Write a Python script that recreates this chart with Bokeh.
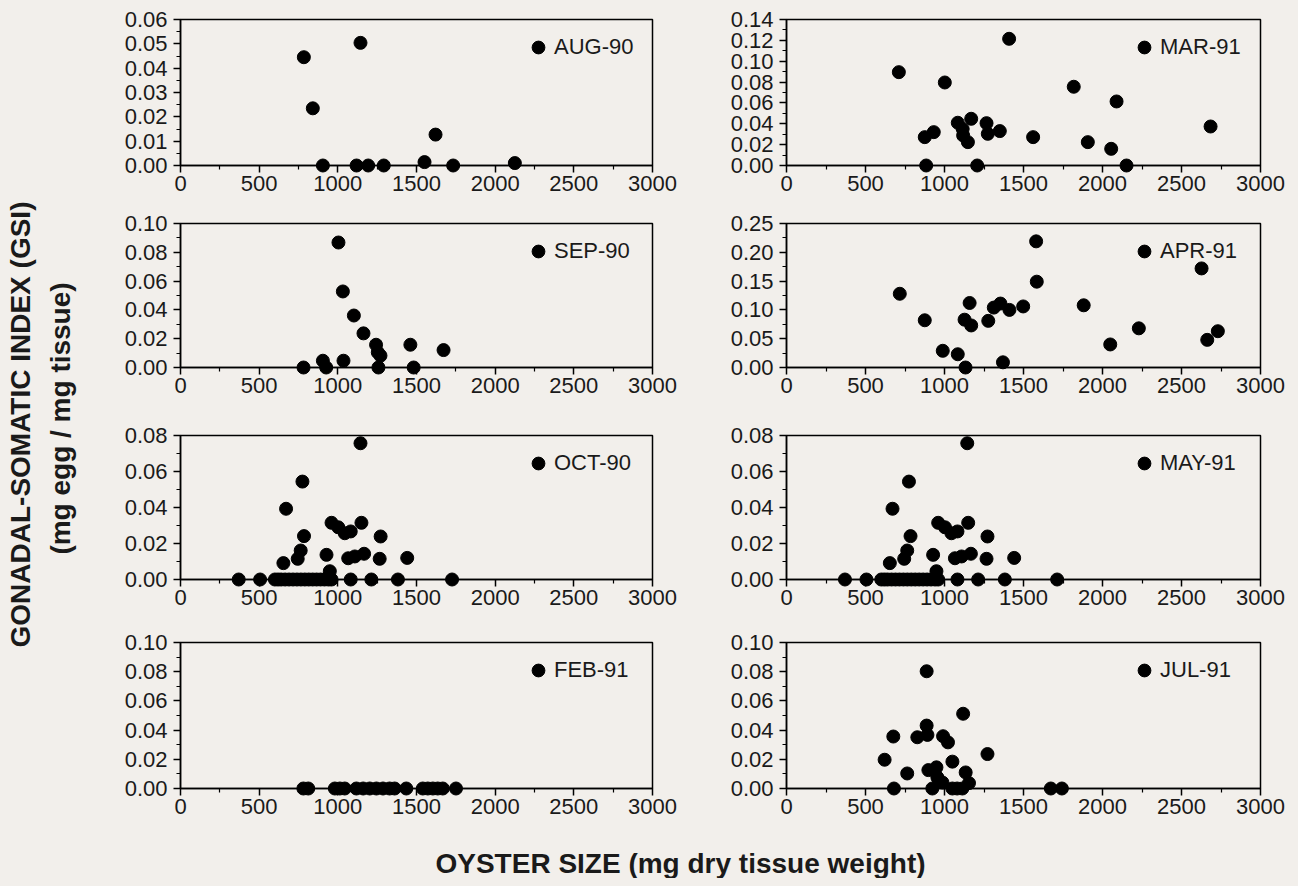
import math
from bokeh.plotting import figure
from bokeh.layouts import column, row
from bokeh.models import Range1d, FixedTicker, PrintfTickFormatter, Legend, LegendItem
from bokeh.embed import file_html
from bokeh.resources import INLINE
from bokeh.core.properties import value

FONT = "Liberation Sans"
BG = "#f2efeb"

# ---------------- data ----------------
aug90_x = [784, 841, 905, 1119, 1144, 1193, 1292, 1551, 1621, 1733, 2125]
aug90_y = [0.0445, 0.0235, 0.0, 0.0, 0.0504, 0.0, 0.0, 0.0014, 0.0127, 0.0, 0.0010]

sep90_x = [782, 905, 926, 1004, 1032, 1036, 1102, 1163, 1243, 1254, 1258, 1271, 1461, 1482, 1672]
sep90_y = [0.0, 0.0047, 0.0, 0.0868, 0.0528, 0.0047, 0.0361, 0.0237, 0.0158, 0.0105, 0.0, 0.0082, 0.0158, 0.0, 0.0121]

oct90_x = [1144, 775, 671, 960, 1003, 1044, 1082, 1150, 785, 1272, 764, 745, 654, 928, 1066, 1108, 1167, 1266, 1441, 949,
           370, 506, 600, 620, 640, 665, 690, 715, 740, 765, 790, 815, 840, 865, 890, 915, 940, 960, 1082, 1213, 1382, 1726]
oct90_y = [0.0757, 0.0544, 0.0393, 0.0315, 0.0290, 0.0257, 0.0267, 0.0315, 0.0241, 0.0239, 0.0161, 0.0115, 0.0091, 0.0137,
           0.0118, 0.0128, 0.0143, 0.0115, 0.0120, 0.0046,
           0, 0, 0, 0, 0, 0, 0, 0, 0, 0, 0, 0, 0, 0, 0, 0, 0, 0, 0, 0, 0, 0]

feb91_x = [781, 812, 981, 1013, 1044, 1118, 1161, 1203, 1245, 1287, 1329, 1361, 1435, 1540, 1572, 1604, 1635, 1667, 1751]
feb91_y = [0.0] * 19

mar91_x = [711, 875, 884, 932, 1002, 1084, 1115, 1118, 1148, 1169, 1207, 1266, 1274, 1350, 1409, 1561, 1818, 1907,
           2055, 2089, 2152, 2684]
mar91_y = [0.0895, 0.0272, 0.0, 0.0320, 0.0796, 0.0410, 0.0350, 0.0288, 0.0224, 0.0448, 0.0, 0.0406, 0.0304, 0.0330,
           0.1215, 0.0272, 0.0755, 0.0224, 0.0160, 0.0614, 0.0, 0.0374]

apr91_x = [717, 875, 989, 1084, 1127, 1133, 1159, 1169, 1277, 1312, 1354, 1370, 1411, 1498, 1580, 1584, 1881, 2049,
           2230, 2627, 2663, 2730]
apr91_y = [0.128, 0.082, 0.029, 0.023, 0.083, 0.0, 0.112, 0.073, 0.081, 0.104, 0.111, 0.009, 0.100, 0.106, 0.219,
           0.149, 0.108, 0.040, 0.068, 0.172, 0.048, 0.063]

may91_x = [1144, 775, 671, 960, 1003, 1044, 1082, 1150, 785, 1272, 764, 745, 654, 928, 1066, 1108, 1167, 1266, 1441, 949,
           370, 506, 600, 620, 640, 665, 690, 715, 740, 765, 790, 815, 840, 865, 890, 915, 940, 960, 1082, 1213, 1382, 1713]
may91_y = [0.0757, 0.0544, 0.0393, 0.0315, 0.0290, 0.0257, 0.0267, 0.0315, 0.0241, 0.0239, 0.0161, 0.0115, 0.0091, 0.0137,
           0.0118, 0.0128, 0.0143, 0.0115, 0.0120, 0.0046,
           0, 0, 0, 0, 0, 0, 0, 0, 0, 0, 0, 0, 0, 0, 0, 0, 0, 0, 0, 0, 0, 0]

jul91_x = [887, 1118, 887, 828, 892, 676, 991, 1022, 621, 1050, 1272, 764, 898, 949, 955, 987, 1134, 1155,
           680, 923, 1050, 1080, 1113, 1673, 1743]
jul91_y = [0.0803, 0.0512, 0.0431, 0.0351, 0.0367, 0.0356, 0.0358, 0.0316, 0.0197, 0.0184, 0.0236, 0.0103, 0.0126,
           0.0145, 0.0076, 0.0041, 0.0110, 0.0037,
           0, 0, 0, 0, 0, 0, 0]

labels = ["AUG-90", "SEP-90", "OCT-90", "FEB-91", "MAR-91", "APR-91", "MAY-91", "JUL-91"]
y_max = [0.06, 0.10, 0.08, 0.10, 0.14, 0.25, 0.08, 0.10]
y_step = [0.01, 0.02, 0.02, 0.02, 0.02, 0.05, 0.02, 0.02]
x_ticks = [0, 500, 1000, 1500, 2000, 2500, 3000]

series = [(aug90_x, aug90_y), (sep90_x, sep90_y), (oct90_x, oct90_y), (feb91_x, feb91_y),
          (mar91_x, mar91_y), (apr91_x, apr91_y), (may91_x, may91_y), (jul91_x, jul91_y)]

# ---------------- layout geometry ----------------
row_frame_h = [146, 144, 144, 146]
row_top = [19, 18, 28, 23]
row_bottom = [40, 40, 40, 40]
col_frame_w = [472, 474]
col_left = [72, 72]
col_right = [62, 38]
YL_W = 108


def style(p):
    p.background_fill_color = BG
    p.border_fill_color = BG
    p.outline_line_color = None


def make_panel(i, r, c):
    xs, ys = series[i]
    ymax, step = y_max[i], y_step[i]
    n = int(round(ymax / step))
    yt = [round(k * step, 4) for k in range(n + 1)]
    ym = [round((k + 0.5) * step, 4) for k in range(n)]
    xm = [x_ticks[k] + 250 for k in range(len(x_ticks) - 1)]
    p = figure(frame_width=col_frame_w[c], frame_height=row_frame_h[r],
               x_range=Range1d(0, 3000), y_range=Range1d(0, ymax),
               output_backend="svg", toolbar_location=None,
               min_border_left=col_left[c], min_border_right=col_right[c],
               min_border_top=row_top[r], min_border_bottom=row_bottom[r])
    style(p)
    p.outline_line_color = "black"
    p.outline_line_width = 1.5
    p.grid.visible = False
    p.xaxis.ticker = FixedTicker(ticks=x_ticks, minor_ticks=xm)
    p.yaxis.ticker = FixedTicker(ticks=yt, minor_ticks=ym)
    p.yaxis.formatter = PrintfTickFormatter(format="%.2f")
    for ax in (p.xaxis[0], p.yaxis[0]):
        ax.axis_line_width = 1.5
        ax.axis_line_color = "black"
        ax.major_tick_line_color = "black"
        ax.major_tick_line_width = 1.5
        ax.minor_tick_line_color = "black"
        ax.minor_tick_line_width = 1.2
        ax.major_tick_out = 7
        ax.major_tick_in = 0
        ax.minor_tick_out = 4
        ax.minor_tick_in = 0
        ax.major_label_text_font = FONT
        ax.major_label_text_font_size = "22px"
        ax.major_label_text_color = "#1a1a1a"
    p.xaxis.major_label_standoff = 3
    p.yaxis.major_label_standoff = 6
    rend = p.scatter(xs, ys, size=13, color="black", level="overlay")
    leg = Legend(items=[LegendItem(label=labels[i], renderers=[rend])],
                 location=(342, row_frame_h[r] - 44),
                 border_line_color=None, background_fill_alpha=0,
                 padding=0, margin=0, glyph_width=32, glyph_height=32,
                 label_standoff=0, spacing=0,
                 label_text_font=FONT, label_text_font_size="22px",
                 label_text_color="#1a1a1a")
    p.add_layout(leg)
    return p


rows = []
for r in range(4):
    rows.append(row(make_panel(r, r, 0), make_panel(r + 4, r, 1), spacing=0))
grid = column(*rows, spacing=0)

total_h = sum(row_frame_h) + sum(row_top) + sum(row_bottom)
yl = figure(frame_width=YL_W, frame_height=total_h, x_range=Range1d(0, YL_W), y_range=Range1d(0, total_h),
            output_backend="svg", toolbar_location=None, min_border=0,
            x_axis_location=None, y_axis_location=None)
style(yl)
yl.grid.visible = False
yl.text(x=[20, 60], y=[total_h - 424, total_h - 418],
        text=["GONADAL-SOMATIC INDEX (GSI)", "(mg egg / mg tissue)"],
        angle=math.pi / 2, text_align="center", text_baseline="middle",
        text_font=value(FONT), text_font_style="bold", text_font_size="28px", text_color="#1a1a1a")

total_w = YL_W + sum(col_frame_w) + sum(col_left) + sum(col_right)
XL_H = 50
xl = figure(frame_width=total_w, frame_height=XL_H, x_range=Range1d(0, total_w), y_range=Range1d(0, XL_H),
            output_backend="svg", toolbar_location=None, min_border=0,
            x_axis_location=None, y_axis_location=None)
style(xl)
xl.grid.visible = False
xl.text(x=[680], y=[XL_H - (863 - total_h)], text=["OYSTER SIZE (mg dry tissue weight)"],
        text_align="center", text_baseline="middle",
        text_font=value(FONT), text_font_style="bold", text_font_size="28px", text_color="#1a1a1a")

layout = column(row(yl, grid, spacing=0), xl, spacing=0)

html = file_html(layout, INLINE)
html = html.replace("</head>", "<style>html, body { background-color: #f2efeb; }</style></head>", 1)
open("out.html", "w").write(html)
